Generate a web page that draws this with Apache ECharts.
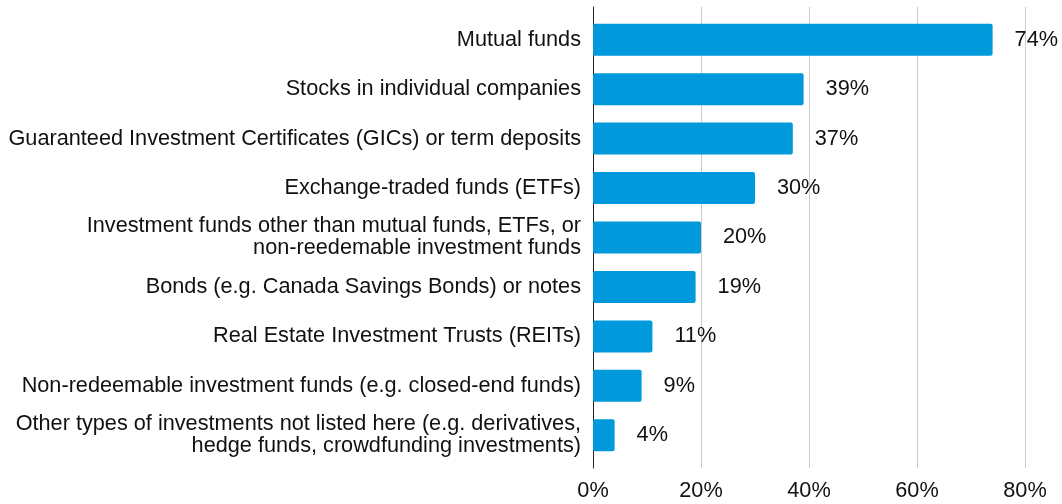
<!DOCTYPE html>
<html><head><meta charset="utf-8">
<script src="https://cdn.jsdelivr.net/npm/echarts@6/dist/echarts.min.js"></script>
<style>html,body{margin:0;padding:0;background:#fff}#c{width:1062px;height:504px}</style>
</head><body><div id="c"></div>
<script>
var categories = [
  "Mutual funds",
  "Stocks in individual companies",
  "Guaranteed Investment Certificates (GICs) or term deposits",
  "Exchange-traded funds (ETFs)",
  "Investment funds other than mutual funds, ETFs, or\nnon-reedemable investment funds",
  "Bonds (e.g. Canada Savings Bonds) or notes",
  "Real Estate Investment Trusts (REITs)",
  "Non-redeemable investment funds (e.g. closed-end funds)",
  "Other types of investments not listed here (e.g. derivatives,\nhedge funds, crowdfunding investments)"
];
var values = [74, 39, 37, 30, 20, 19, 11, 9, 4];
var xTicks = [0, 20, 40, 60, 80];

var chart = echarts.init(document.getElementById('c'));
var font = "'Liberation Sans', Arial, Helvetica, sans-serif";
var fs = 21.7;
chart.setOption({
  animation: false,
  textStyle: {fontFamily: font},
  grid: [
    {left: 593, right: 37, top: 7, bottom: 36, containLabel: false},
    {left: 593, right: 37, top: 15, bottom: 44, containLabel: false}
  ],
  xAxis: [{
    gridIndex: 0, type: 'value', min: xTicks[0], max: xTicks[xTicks.length-1], interval: 20,
    axisLine: {show: false}, axisTick: {show: false},
    splitLine: {lineStyle: {color: '#cccccc', width: 1}},
    axisLabel: {formatter: '{value}%', color: '#111', fontSize: fs, fontFamily: font, margin: 12}
  }, {
    gridIndex: 1, type: 'value', min: xTicks[0], max: xTicks[xTicks.length-1], interval: 20,
    show: false, splitLine: {show: false}
  }],
  yAxis: [{
    gridIndex: 0, type: 'category', data: categories, inverse: true,
    axisLine: {lineStyle: {color: '#222', width: 1}},
    axisTick: {show: false}, axisLabel: {show: false}, splitLine: {show: false}
  }, {
    gridIndex: 1, type: 'category', data: categories, inverse: true,
    axisLine: {show: false},
    axisTick: {show: false},
    axisLabel: {color: '#111', fontSize: fs, fontFamily: font, margin: 12, lineHeight: 22, align: 'right'}
  }],
  series: [{
    type: 'bar', xAxisIndex: 1, yAxisIndex: 1, data: values, barWidth: 32,
    itemStyle: {color: '#0099db', borderRadius: 2},
    label: {show: true, position: 'right', distance: 22, formatter: '{c}%', color: '#111', fontSize: fs, fontFamily: font}
  }]
});
</script></body></html>
